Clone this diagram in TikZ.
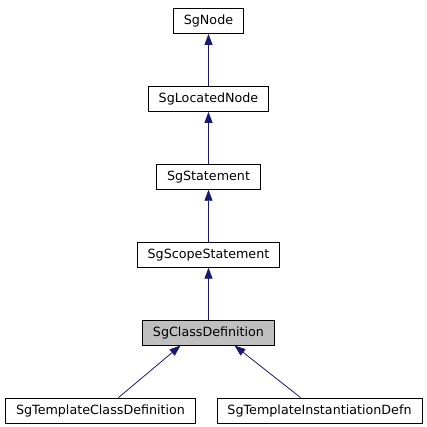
\documentclass[tikz,border=0pt]{standalone}
\usepackage{fontspec}
\setmainfont{DejaVu Sans}
\usetikzlibrary{arrows.meta,positioning}
\definecolor{edgeblue}{HTML}{191970}
\definecolor{curgray}{HTML}{BFBFBF}

\begin{document}
\begin{tikzpicture}[
  font=\fontsize{12.7}{14}\selectfont,
  box/.style={draw, line width=0.9pt, fill=white, inner xsep=10.5pt,
              inner ysep=0pt, minimum height=25pt},
  current/.style={box, fill=curgray},
  inh/.style={edgeblue, line width=0.8pt, -{Triangle[length=11pt, width=8pt]}},
  node distance=52pt]
\useasboundingbox (0,0) rectangle (427pt,-427pt);
\node[box] at (208.5pt,-21pt) (node) {SgNode};
\node[box, below=of node] (loc) {SgLocatedNode};
\node[box, below=of loc] (stmt) {SgStatement};
\node[box, below=of stmt] (scope) {SgScopeStatement};
\node[current, below=of scope] (cls) {SgClassDefinition};
\node[box, below=of cls, xshift=-108pt] (tcls) {SgTemplateClassDefinition};
\node[box, below=of cls, xshift=111pt] (tinst) {SgTemplateInstantiationDefn};
\draw[inh] (loc) -- (node);
\draw[inh] (stmt) -- (loc);
\draw[inh] (scope) -- (stmt);
\draw[inh] (cls) -- (scope);
\draw[inh] ([xshift=18pt]tcls.north) -- ([xshift=-28pt]cls.south);
\draw[inh] ([xshift=-19pt]tinst.north) -- ([xshift=26pt]cls.south);
\end{tikzpicture}
\end{document}
